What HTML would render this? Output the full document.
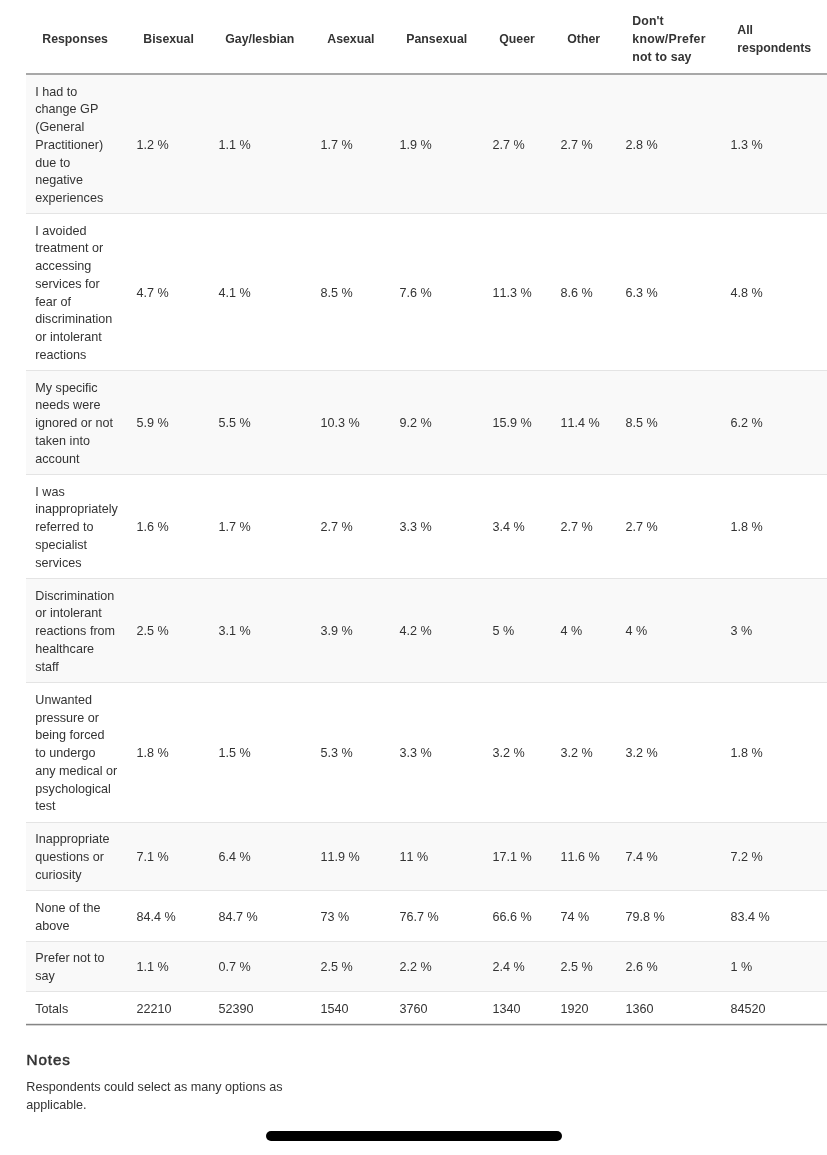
<!DOCTYPE html>
<html lang="en">
<head>
<meta charset="utf-8">
<title>Responses table</title>
<style>
html,body{margin:0;padding:0;background:#fff;}
body{width:827px;height:1155px;overflow:hidden;position:relative;font-family:"Liberation Sans",Arial,sans-serif;color:#333;font-size:12.6px;line-height:17.75px;}
table{position:absolute;left:26px;top:0;border-collapse:collapse;table-layout:fixed;width:803px;white-space:nowrap;}
th,td{text-align:left;vertical-align:middle;padding:0;}
th{font-weight:bold;font-size:12.3px;padding-left:16.3px;padding-top:7px;height:66px;border-bottom:2px solid #a8a8a8;color:#333;}
td{padding-left:9.4px;padding-top:4px;border-bottom:1px solid #e4e4e4;}
td:first-child{padding-left:9.3px;}
td+td{font-kerning:none;}
tr.g td{background:#f9f9f9;}
tr.last td{border-bottom:1px solid #858585;}
.l1{position:absolute;left:26px;right:0;top:1023px;height:1px;background:#e6e6e6;}
.l2{position:absolute;left:26px;right:0;top:1025px;height:1px;background:#d4d4d4;}
h3{position:absolute;left:26.6px;top:1050px;margin:0;font-size:15.2px;letter-spacing:0.9px;line-height:20px;font-weight:normal;-webkit-text-stroke:0.5px #333;color:#333;}
p{position:absolute;left:26.3px;top:1079px;margin:0;}
.bar{position:absolute;left:266px;top:1131px;width:296px;height:10px;border-radius:5px;background:#000;}
</style>
</head>
<body>
<table>
<colgroup><col style="width:101px"><col style="width:82px"><col style="width:102px"><col style="width:79px"><col style="width:93px"><col style="width:68px"><col style="width:65px"><col style="width:105px"><col style="width:108px"></colgroup>
<thead>
<tr><th>Responses</th><th>Bisexual</th><th>Gay/lesbian</th><th>Asexual</th><th>Pansexual</th><th>Queer</th><th>Other</th><th style="letter-spacing:0.12px">Don't<br><span style="letter-spacing:0.28px">know/Prefer</span><br>not to say</th><th>All<br>respondents</th></tr>
</thead>
<tbody>
<tr class="g" style="height:139px"><td>I had to<br>change GP<br>(General<br>Practitioner)<br>due to<br>negative<br>experiences</td><td>1.2 %</td><td>1.1 %</td><td>1.7 %</td><td>1.9 %</td><td>2.7 %</td><td>2.7 %</td><td>2.8 %</td><td>1.3 %</td></tr>
<tr style="height:157px"><td>I avoided<br>treatment or<br>accessing<br>services for<br>fear of<br>discrimination<br>or intolerant<br>reactions</td><td>4.7 %</td><td>4.1 %</td><td>8.5 %</td><td>7.6 %</td><td>11.3 %</td><td>8.6 %</td><td>6.3 %</td><td>4.8 %</td></tr>
<tr class="g" style="height:104px"><td>My specific<br>needs were<br>ignored or not<br>taken into<br>account</td><td>5.9 %</td><td>5.5 %</td><td>10.3 %</td><td>9.2 %</td><td>15.9 %</td><td>11.4 %</td><td>8.5 %</td><td>6.2 %</td></tr>
<tr style="height:104px"><td>I was<br>inappropriately<br>referred to<br>specialist<br>services</td><td>1.6 %</td><td>1.7 %</td><td>2.7 %</td><td>3.3 %</td><td>3.4 %</td><td>2.7 %</td><td>2.7 %</td><td>1.8 %</td></tr>
<tr class="g" style="height:104px"><td>Discrimination<br>or intolerant<br>reactions from<br>healthcare<br>staff</td><td>2.5 %</td><td>3.1 %</td><td>3.9 %</td><td>4.2 %</td><td>5 %</td><td>4 %</td><td>4 %</td><td>3 %</td></tr>
<tr style="height:140px"><td>Unwanted<br>pressure or<br>being forced<br>to undergo<br>any medical or<br>psychological<br>test</td><td>1.8 %</td><td>1.5 %</td><td>5.3 %</td><td>3.3 %</td><td>3.2 %</td><td>3.2 %</td><td>3.2 %</td><td>1.8 %</td></tr>
<tr class="g" style="height:68px"><td>Inappropriate<br>questions or<br>curiosity</td><td>7.1 %</td><td>6.4 %</td><td>11.9 %</td><td>11 %</td><td>17.1 %</td><td>11.6 %</td><td>7.4 %</td><td>7.2 %</td></tr>
<tr style="height:51px"><td>None of the<br>above</td><td>84.4 %</td><td>84.7 %</td><td>73 %</td><td>76.7 %</td><td>66.6 %</td><td>74 %</td><td>79.8 %</td><td>83.4 %</td></tr>
<tr class="g" style="height:50px"><td>Prefer not to<br>say</td><td>1.1 %</td><td>0.7 %</td><td>2.5 %</td><td>2.2 %</td><td>2.4 %</td><td>2.5 %</td><td>2.6 %</td><td>1 %</td></tr>
<tr class="last" style="height:33px"><td>Totals</td><td>22210</td><td>52390</td><td>1540</td><td>3760</td><td>1340</td><td>1920</td><td>1360</td><td>84520</td></tr>
</tbody>
</table>
<div class="l1"></div><div class="l2"></div>
<h3>Notes</h3>
<p>Respondents could select as many options as<br>applicable.</p>
<div class="bar"></div>
</body>
</html>
